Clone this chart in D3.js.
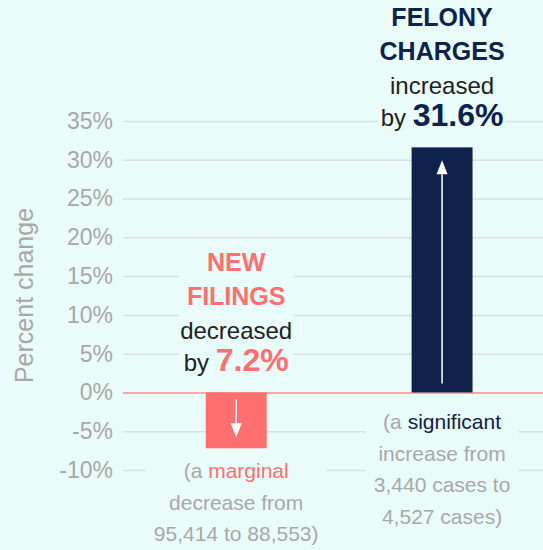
<!DOCTYPE html>
<html>
<head>
<meta charset="utf-8">
<script src="https://cdn.jsdelivr.net/npm/d3@7"></script>
<style>
  html, body { margin: 0; padding: 0; background: #eafcf9; }
  svg { display: block; font-family: "Liberation Sans", Arial, sans-serif; }
</style>
</head>
<body>
<svg id="chart" width="543" height="550"></svg>
<script>
// ---- data ----
const categories = ["New filings", "Felony charges"];
const values = [-7.2, 31.6];
const yTicks = [-10, -5, 0, 5, 10, 15, 20, 25, 30, 35];
const titleLines = [["NEW", "FILINGS"], ["FELONY", "CHARGES"]];
const verbs = ["decreased", "increased"];
const noteWords = ["marginal", "significant"];
const noteLines = [
  ["decrease from", "95,414 to 88,553)"],
  ["increase from", "3,440 cases to", "4,527 cases)"]
];
const yLabel = "Percent change";

// ---- styles ----
const BG = "#eafcf9";
const barColors = ["#ff6f6f", "#0e224b"];
const GRID = "#dedede";
const ZERO = "#ff8c8c";
const GRAY = "#a8a8a8";
const DARK = "#222222";

const svg = d3.select("#chart");
const W = 543, H = 550;

const x = d3.scaleBand().domain(categories).range([123, 543])
  .paddingInner(0.704).paddingOuter(0.372).align(0.54);
const y = d3.scaleLinear().domain([-10, 35]).range([470, 121]);

// grid + axis
const axis = d3.axisLeft(y).tickValues(yTicks).tickFormat(d => d + "%")
  .tickSize(-(W - 123)).tickPadding(10);
const gAxis = svg.append("g").attr("transform", "translate(123,0)").call(axis);
gAxis.select(".domain").remove();
gAxis.selectAll(".tick line").attr("stroke", d => d === 0 ? ZERO : GRID).attr("stroke-width", 1.5);
gAxis.selectAll(".tick text").attr("fill", GRAY).attr("font-size", 23)
  .attr("font-family", "Liberation Sans, Arial, sans-serif");
gAxis.selectAll(".tick").filter(d => d === 0).raise();

svg.append("text")
  .attr("transform", `translate(33,${(y(35) + y(-10)) / 2}) rotate(-90)`)
  .attr("text-anchor", "middle").attr("fill", GRAY).attr("font-size", 25)
  .text(yLabel);

// bars
const bars = svg.append("g");
categories.forEach((c, i) => {
  const v = values[i];
  const x0 = x(c), bw = x.bandwidth(), cx = x0 + bw / 2;
  const yTop = y(Math.max(0, v)), yBot = y(Math.min(0, v));
  bars.append("rect").attr("x", x0).attr("y", yTop).attr("width", bw)
    .attr("height", yBot - yTop).attr("fill", barColors[i]);

  const head = 14, hw = 5.5;
  let start, tip, dir;
  if (v >= 0) { start = yBot - 9; tip = yTop + 13; dir = -1; }
  else { start = yTop + 7; tip = yBot - 11; dir = 1; }
  const base = tip - dir * head;
  bars.append("line").attr("x1", cx).attr("x2", cx).attr("y1", start).attr("y2", base)
    .attr("stroke", "#f2f2f2").attr("stroke-width", 1.6);
  bars.append("path")
    .attr("d", `M${cx},${tip} L${cx - hw},${base} L${cx + hw},${base} Z`)
    .attr("fill", "#ffffff");
});

// annotations with background boxes that mask gridlines
function addBlock(drawFn, padX, padY) {
  const g = svg.append("g");
  const bgRect = g.append("rect").attr("fill", BG);
  const t = g.append("g");
  drawFn(t);
  const bb = t.node().getBBox();
  bgRect.attr("x", bb.x - padX).attr("y", bb.y - padY)
    .attr("width", bb.width + 2 * padX).attr("height", bb.height + 2 * padY);
}

categories.forEach((c, i) => {
  const v = values[i];
  const cx = x(c) + x.bandwidth() / 2;
  const yTop = y(Math.max(0, v)), yBot = y(Math.min(0, v));
  const col = barColors[i];

  addBlock(t => {
    const last = yTop - 21;
    const verbY = last - 32;
    const lines = titleLines[i];
    lines.forEach((ln, k) => {
      t.append("text").attr("x", cx).attr("y", verbY - 34 * (lines.length - k))
        .attr("text-anchor", "middle").attr("font-size", 25).attr("font-weight", "bold")
        .attr("fill", col).text(ln);
    });
    t.append("text").attr("x", cx).attr("y", verbY).attr("text-anchor", "middle")
      .attr("font-size", 24).attr("fill", DARK).text(verbs[i]);
    const tt = t.append("text").attr("x", cx).attr("y", last).attr("text-anchor", "middle");
    tt.append("tspan").attr("font-size", 24).attr("fill", DARK).text("by ");
    tt.append("tspan").attr("font-size", 32).attr("font-weight", "bold").attr("fill", col)
      .text(Math.abs(v).toFixed(1) + "%");
  }, 1, 2);

  addBlock(t => {
    const first = yBot + (v < 0 ? 30 : 37);
    const t0 = t.append("text").attr("x", cx).attr("y", first).attr("text-anchor", "middle")
      .attr("font-size", 21);
    t0.append("tspan").attr("fill", GRAY).text("(a ");
    t0.append("tspan").attr("fill", col).text(noteWords[i]);
    noteLines[i].forEach((ln, k) => {
      t.append("text").attr("x", cx).attr("y", first + 31.5 * (k + 1))
        .attr("text-anchor", "middle").attr("font-size", 21).attr("fill", GRAY).text(ln);
    });
  }, 8, 2);
});
</script>
</body>
</html>
